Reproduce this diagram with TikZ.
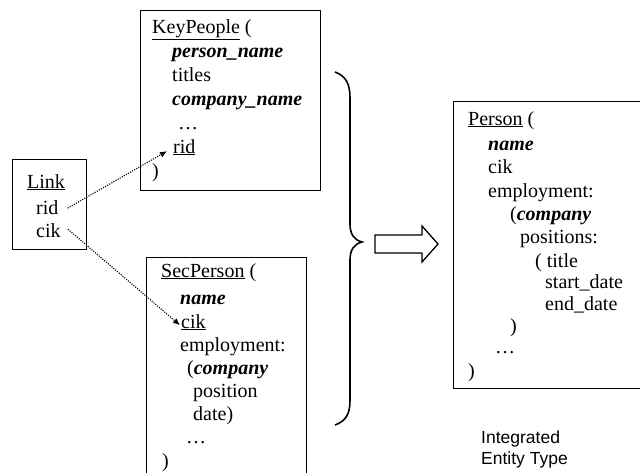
\documentclass[tikz,border=0pt]{standalone}
\usepackage{fontspec}
\setmainfont{Liberation Serif}
\newfontfamily\sansf{Liberation Sans}
\usetikzlibrary{arrows.meta}
\begin{document}
\begin{tikzpicture}[x=1pt,y=-1pt,
  txt/.style={anchor=base west,inner sep=0pt,font=\fontsize{20}{24}\selectfont},
  boxn/.style={draw=black,line width=0.9pt,anchor=north west,inner sep=0pt},
  reflink/.style={line width=1.1pt,dash pattern=on 1.1pt off 1.3pt,-{Latex[length=7pt,width=6pt]}},
]
\useasboundingbox (0,0) rectangle (640,472);
\clip (0,0) rectangle (640,472);
\fill[white] (0,0) rectangle (640,472);

% Link box
\node[boxn,minimum width=74pt,minimum height=90pt] (linkbox) at (12,159) {};
\node[txt] (ltitle) at (27,188) {\underline{Link}};
\node[txt] (lrid) at (36,214) {rid};
\node[txt] (lcik) at (36,237) {cik};

% KeyPeople box
\node[boxn,minimum width=180pt,minimum height=180pt] (kpbox) at (140,10) {};
\node[txt] (ktitle) at (152,33) {\underline{KeyPeople} (};
\node[txt] (kpname) at (172,57) {\textbf{\textit{person\_name}}};
\node[txt] (ktitles) at (172,81) {titles};
\node[txt] (kcname) at (172,105) {\textbf{\textit{company\_name}}};
\node[txt] (kdots) at (178,129) {…};
\node[txt] (krid) at (173,153) {\underline{rid}};
\node[txt] (kclose) at (152,177) {)};

% SecPerson box
\node[boxn,minimum width=160pt,minimum height=230pt] (spbox) at (146,257) {};
\node[txt] (stitle) at (161,277) {\underline{SecPerson} (};
\node[txt] (sname) at (180,304) {\textbf{\textit{name}}};
\node[txt] (scik) at (181,328) {\underline{cik}};
\node[txt] (semp) at (180,351) {employment:};
\node[txt] (scomp) at (187,374) {(\textbf{\textit{company}}};
\node[txt] (spos) at (193,397) {position};
\node[txt] (sdate) at (193,420) {date)};
\node[txt] (sdots) at (186,443) {…};
\node[txt] (sclose) at (162,467) {)};

% Person box
\node[boxn,minimum width=200pt,minimum height=287pt] (pbox) at (453,101) {};
\node[txt] (ptitle) at (468,125) {\underline{Person} (};
\node[txt] (pname) at (488,150) {\textbf{\textit{name}}};
\node[txt] (pcik) at (488,173) {cik};
\node[txt] (pemp) at (488,197) {employment:};
\node[txt] (pcomp) at (510,220) {(\textbf{\textit{company}}};
\node[txt] (ppos) at (520,243) {positions:};
\node[txt] (ptitle2) at (535,267) {( title};
\node[txt] (pstart) at (545,288) {start\_date};
\node[txt] (pend) at (545,310) {end\_date};
\node[txt] (pclose1) at (510,332) {)};
\node[txt] (pdots) at (495,353) {…};
\node[txt] (pclose2) at (468,377) {)};

% caption
\node[anchor=base west,inner sep=0pt,font=\sansf\fontsize{17.5}{21}\selectfont,align=left] (cap1) at (481,443) {Integrated};
\node[anchor=base west,inner sep=0pt,font=\sansf\fontsize{17.5}{21}\selectfont,align=left] (cap2) at (481,464) {Entity Type};

% reference arrows
\draw[reflink] ([xshift=9pt,yshift=-1pt]lrid.east) -- ([xshift=-6pt,yshift=-4pt]krid.west);
\draw[reflink] ([xshift=7pt,yshift=1pt]lcik.east) -- ([xshift=-1pt,yshift=-3pt]scik.west);

% brace
\draw[line width=1.6pt] (335,72) .. controls (346,76) and (350,84) .. (350,98)
  -- (350,224) .. controls (350,234) and (354,240) .. (362,242)
  .. controls (354,244) and (350,250) .. (350,260)
  -- (350,400) .. controls (350,414) and (346,421) .. (335,425);

% block arrow
\draw[line width=1.3pt,line join=miter] (375,235) -- (422,235) -- (422,226) -- (438,244) -- (422,262) -- (422,253) -- (375,253) -- cycle;
\end{tikzpicture}
\end{document}
